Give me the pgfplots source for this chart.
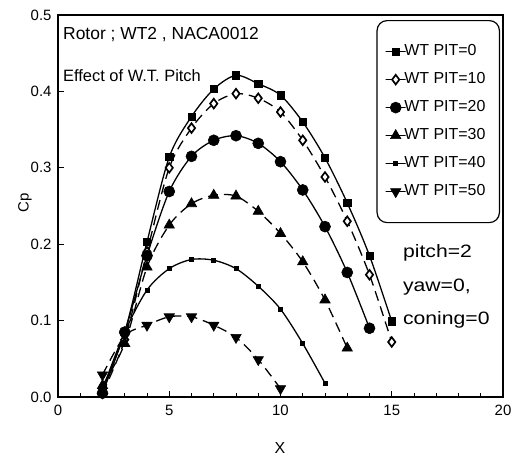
\documentclass[border=0pt]{standalone}
\usepackage{fontspec}
\setmainfont{Liberation Sans}
\newfontfamily\widefont{Liberation Sans}[FakeStretch=1.18]
\usepackage{pgfplots}
\pgfplotsset{compat=1.18}
\usetikzlibrary{calc}

\pgfplotstableread{
x y
2 0.010
3 0.085
4 0.203
5 0.314
6 0.367
7 0.403
8 0.421
9 0.410
10 0.395
11 0.360
12 0.313
13 0.254
14 0.185
15 0.099
}\pitA
\pgfplotstableread{
x y
2 0.005
3 0.075
4 0.190
5 0.300
6 0.352
7 0.384
8 0.397
9 0.391
10 0.373
11 0.336
12 0.288
13 0.230
14 0.160
15 0.072
}\pitB
\pgfplotstableread{
x y
2 0.005
3 0.085
4 0.185
5 0.269
6 0.315
7 0.336
8 0.342
9 0.332
10 0.308
11 0.271
12 0.223
13 0.163
14 0.090
}\pitC
\pgfplotstableread{
x y
2 0.015
3 0.070
4 0.170
5 0.225
6 0.253
7 0.264
8 0.263
9 0.243
10 0.214
11 0.177
12 0.127
13 0.064
}\pitD
\pgfplotstableread{
x y
2 0.010
3 0.085
4 0.140
5 0.168
6 0.180
7 0.179
8 0.168
9 0.145
10 0.115
11 0.070
12 0.018
}\pitE
\pgfplotstableread{
x y
2 0.029
3 0.080
4 0.094
5 0.105
6 0.105
7 0.094
8 0.078
9 0.049
10 0.011
}\pitF

\begin{document}
\begin{tikzpicture}
\begin{axis}[
  scale only axis, width=445bp, height=382bp,
  xmin=0, xmax=20, ymin=0, ymax=0.5,
  xtick={0,5,10,15,20}, minor x tick num=4,
  ytick={0,0.1,0.2,0.3,0.4,0.5},
  yticklabel style={xshift=-3bp, /pgf/number format/fixed, /pgf/number format/fixed zerofill, /pgf/number format/precision=1},
  /pgf/number format/assume math mode=true,
  tick label style={font=\fontsize{15}{15}\selectfont},
  xticklabel style={yshift=-5bp},
  tick align=inside, xtick pos=bottom, ytick pos=left,
  major tick length=6bp, minor tick length=4bp,
  axis line style={line width=1.4pt},
  tick style={line width=0.8pt, black},
  xlabel={X}, ylabel={Cp},
  every axis x label/.style={at={(axis description cs:0.499,-0.1335)}, anchor=center, font=\fontsize{16}{16}\selectfont},
  every axis y label/.style={at={(axis description cs:-0.0742,0.508)}, anchor=center, rotate=90, font=\fontsize{15}{15}\selectfont},
  every axis plot/.append style={line width=1.3pt, black},
  legend style={
    at={(rel axis cs:0.9933,0.9869)}, anchor=north east,
    draw=black, line width=1.2pt, rounded corners=10bp,
    inner xsep=12bp, inner ysep=21bp,
    row sep=8bp,
    font=\fontsize{16}{16}\selectfont,
    nodes={inner xsep=2bp, inner ysep=2bp, text height=12bp, text depth=4bp},
  },
  legend cell align=left,
  legend image code/.code={\draw[mark repeat=2,mark phase=2,#1,solid] plot coordinates {(0bp,0bp)(6bp,0bp)(12bp,0bp)};},
]
\addplot[smooth, line width=1.3pt, mark=square*, mark size=3.6bp, mark options={solid, line width=0.6pt}] table {\pitA};
\addlegendentry{WT PIT=0}
\addplot[smooth, line width=1.3pt, dash pattern=on 10bp off 6bp, mark=diamond*, mark size=4.8bp, mark options={solid, fill=white, line width=1.7pt}] table {\pitB};
\addlegendentry{WT PIT=10}
\addplot[smooth, line width=1.3pt, mark=*, mark size=5.5bp, mark options={solid, line width=0.6pt}] table {\pitC};
\addlegendentry{WT PIT=20}
\addplot[smooth, line width=1.3pt, dash pattern=on 10bp off 6bp, mark=triangle*, mark size=6bp, mark options={solid, line width=0.6pt}] table {\pitD};
\addlegendentry{WT PIT=30}
\addplot[smooth, line width=1.3pt, mark=square*, mark size=2bp, mark options={solid, line width=0.6pt}] table {\pitE};
\addlegendentry{WT PIT=40}
\addplot[smooth, line width=1.3pt, dash pattern=on 10bp off 6bp, mark=triangle*, mark size=6bp, mark options={solid, rotate=180, line width=0.6pt}] table {\pitF};
\addlegendentry{WT PIT=50}

\node[anchor=base west, inner sep=0pt, font=\fontsize{17.5}{17.5}\selectfont] at (rel axis cs:0.0112,0.9346) {Rotor ; WT2 , NACA0012};
\node[anchor=base west, inner sep=0pt, font=\fontsize{16.5}{16.5}\selectfont] at (rel axis cs:0.0112,0.8254) {Effect of W.T. Pitch};
\node[anchor=base west, inner sep=0pt, font=\widefont\fontsize{18}{18}\selectfont] at (rel axis cs:0.775,0.3657) {pitch=2};
\node[anchor=base west, inner sep=0pt, font=\widefont\fontsize{18}{18}\selectfont] at (rel axis cs:0.775,0.2757) {yaw=0,};
\node[anchor=base west, inner sep=0pt, font=\widefont\fontsize{18}{18}\selectfont] at (rel axis cs:0.775,0.1885) {coning=0};
\end{axis}
\pgfresetboundingbox
\path[use as bounding box] ($(current axis.south west)+(-58bp,-61bp)$) rectangle ($(current axis.north east)+(12bp,15bp)$);
\end{tikzpicture}
\end{document}
